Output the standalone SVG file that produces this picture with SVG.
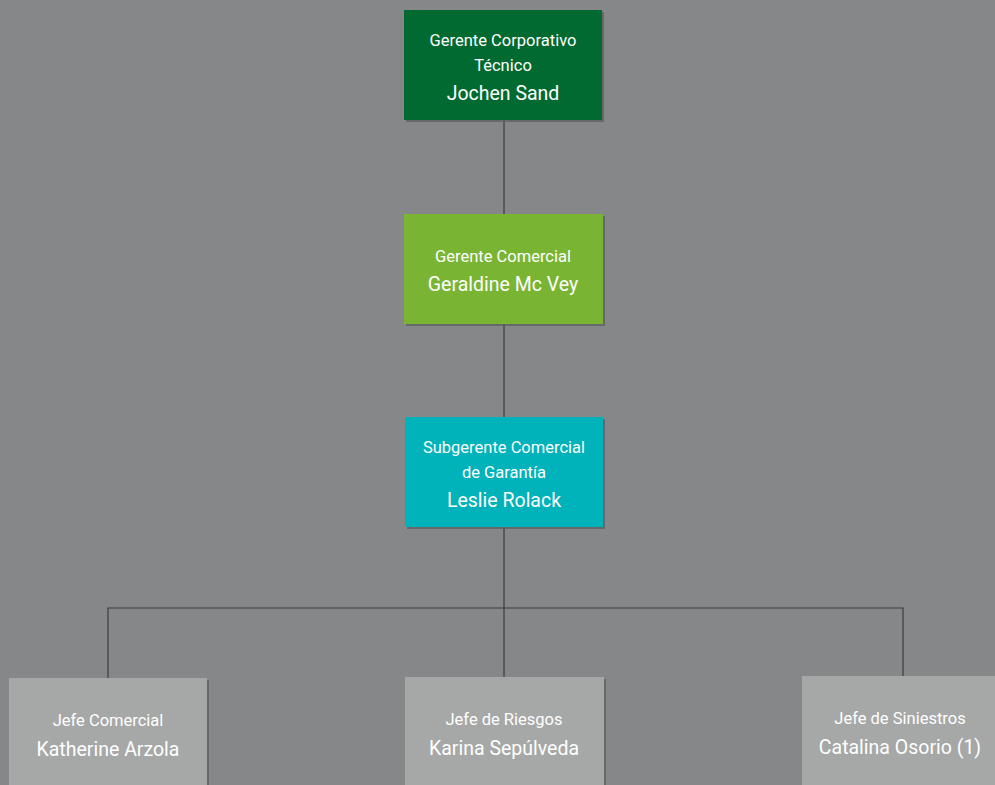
<svg xmlns="http://www.w3.org/2000/svg" width="995" height="785" viewBox="0 0 995 785">
<style>
.bg{fill:#868789}
.sh{fill:#5f6062;opacity:0.8}
.t{font-family:Roboto,"Liberation Sans",sans-serif;font-weight:400;fill:#ffffff;text-anchor:middle}
.s{font-size:16.5px}
.n{font-size:19.5px}
.c{stroke:#3c3c3e;stroke-width:1.2;fill:none}
</style>
<rect class="bg" x="0" y="0" width="995" height="785"/>
<g id="connectors">
<line class="c" x1="504" y1="120" x2="504" y2="214"/>
<line class="c" x1="504" y1="324" x2="504" y2="417"/>
<line class="c" x1="504" y1="527" x2="504" y2="677"/>
<polyline class="c" points="108,678 108,608 903,608 903,676"/>
</g>
<g id="n1">
<rect class="sh" x="406" y="12" width="198" height="110"/>
<rect x="404" y="10" width="198" height="110" fill="#006a30"/>
<text class="t s" x="503" y="46">Gerente Corporativo</text>
<text class="t s" x="503" y="71">Técnico</text>
<text class="t n" x="503" y="100">Jochen Sand</text>
</g>
<g id="n2">
<rect class="sh" x="406" y="216" width="199" height="110"/>
<rect x="404" y="214" width="199" height="110" fill="#79b533"/>
<text class="t s" x="503" y="262">Gerente Comercial</text>
<text class="t n" x="503" y="291">Geraldine Mc Vey</text>
</g>
<g id="n3">
<rect class="sh" x="407" y="419" width="198" height="110"/>
<rect x="405" y="417" width="198" height="110" fill="#00b2b9"/>
<text class="t s" x="504" y="453">Subgerente Comercial</text>
<text class="t s" x="504" y="478">de Garantía</text>
<text class="t n" x="504" y="507">Leslie Rolack</text>
</g>
<g id="n4">
<rect class="sh" x="11" y="680" width="198" height="110"/>
<rect x="9" y="678" width="198" height="110" fill="#a6a8a7"/>
<text class="t s" x="108" y="726">Jefe Comercial</text>
<text class="t n" x="108" y="756">Katherine Arzola</text>
</g>
<g id="n5">
<rect class="sh" x="407" y="679" width="199" height="110"/>
<rect x="405" y="677" width="199" height="110" fill="#a6a8a7"/>
<text class="t s" x="504" y="725">Jefe de Riesgos</text>
<text class="t n" x="504" y="755">Karina Sepúlveda</text>
</g>
<g id="n6">
<rect class="sh" x="804" y="678" width="199" height="110"/>
<rect x="802" y="676" width="199" height="110" fill="#a6a8a7"/>
<text class="t s" x="900" y="724">Jefe de Siniestros</text>
<text class="t n" x="900" y="754">Catalina Osorio (1)</text>
</g>
</svg>
